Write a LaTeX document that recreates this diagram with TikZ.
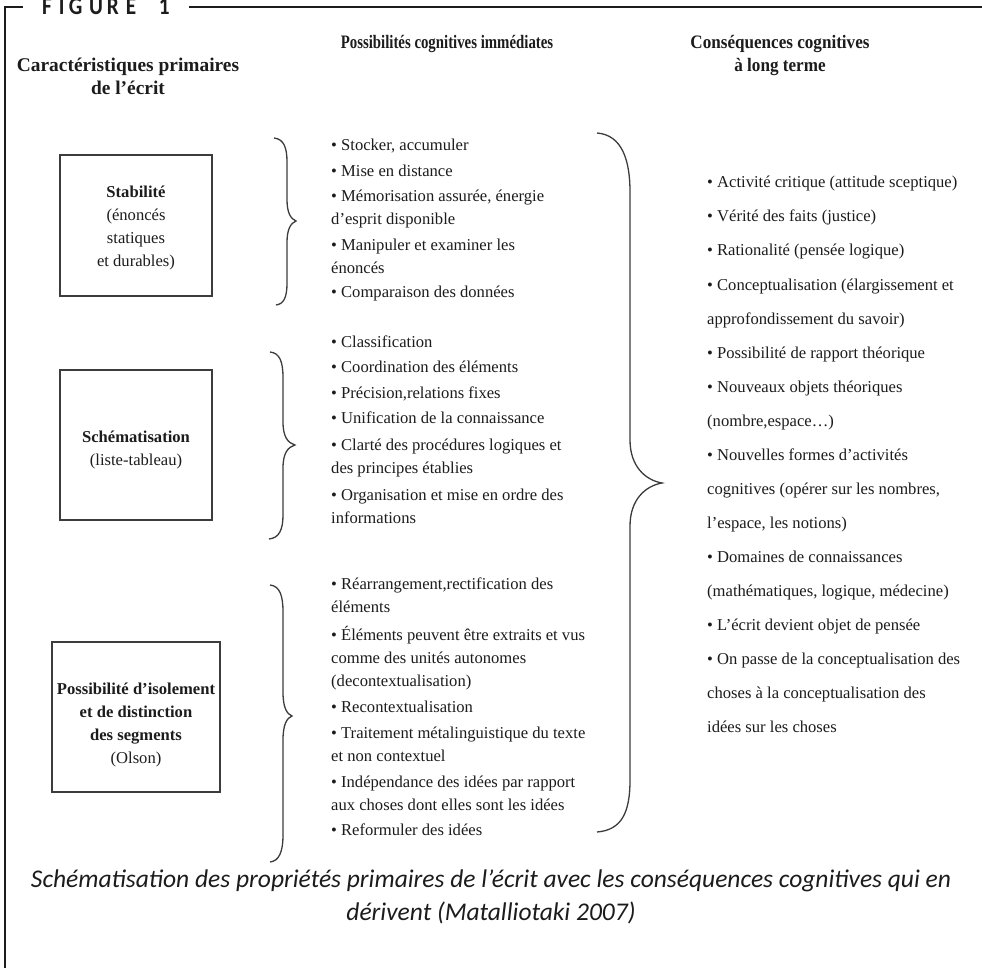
\documentclass[tikz,border=0pt]{standalone}
\usepackage{fontspec}
\setmainfont{Liberation Serif}
\newfontfamily\capfont{Carlito}
\newfontfamily\figfont[FakeStretch=0.85]{Carlito}
\newfontfamily\headnarrow[FakeStretch=0.78]{Liberation Serif}
\newfontfamily\headmid[FakeStretch=0.9]{Liberation Serif}
\definecolor{ink}{HTML}{1C1C1C}
\definecolor{brc}{HTML}{3C3C3C}
\newcommand{\bodyfont}{\fontsize{16.6}{23}\selectfont}
\newcommand{\rightfont}{\fontsize{16.6}{34}\selectfont}
\begin{document}
\begin{tikzpicture}[x=1pt,y=-1pt,
  frame/.style={draw=ink, line width=1.1pt},
  boxst/.style={draw=brc, line width=1.3pt, inner sep=0},
  boxtxt/.style={anchor=base, inner sep=0, align=center, font=\fontsize{16.6}{22.7}\selectfont, text=ink},
  head/.style={anchor=base, inner sep=0, align=center, text=ink},
  mid/.style={anchor=base west, inner sep=0, align=left, font=\bodyfont, text=ink},
  rgt/.style={anchor=base west, inner sep=0, align=left, font=\rightfont, text=ink},
  brace/.style={draw=brc, line width=1.3pt},
  captxt/.style={anchor=base, inner sep=0, font=\capfont\itshape\fontsize{25.5}{25.5}\selectfont, text=ink}]
\useasboundingbox (0,0) rectangle (982,968);
\fill[white] (0,0) rectangle (982,968);
% frame
\draw[frame] (23,7) -- (5,7) -- (5,968);
\draw[frame] (189,7) -- (982,7);
\node[anchor=base west, inner sep=0, text=ink, font=\figfont\bfseries\fontsize{25}{25}\selectfont] (fig) at (42,15)
  {F\hspace{7pt}I\hspace{4.3pt}G\hspace{6.6pt}U\hspace{4pt}R\hspace{7pt}E\hspace{22.6pt}1};
% headers (anchor base = last line)
\node[head, font=\fontsize{19.4}{23}\selectfont\bfseries] (h1) at (128,95) {Caractéristiques primaires\\de l’écrit};
\node[head, font=\headnarrow\fontsize{19}{23}\selectfont\bfseries] (h2) at (447,49) {Possibilités cognitives immédiates};
\node[head, font=\headmid\fontsize{19}{23}\selectfont\bfseries] (h3) at (780,72) {Conséquences cognitives\\à long terme};
% boxes
\node[boxst, minimum width=152, minimum height=141] (b1) at (136,225.5) {};
\node[boxtxt] (t1) at (136,266) {\textbf{Stabilité}\\(énoncés\\statiques\\et durables)};
\node[boxst, minimum width=152, minimum height=150] (b2) at (136,445) {};
\node[boxtxt] (t2) at (136,465) {\textbf{Schématisation}\\(liste-tableau)};
\node[boxst, minimum width=168, minimum height=150] (b3) at (136,717) {};
\node[boxtxt] (t3) at (136,763) {\textbf{Possibilité d’isolement}\\\textbf{et de distinction}\\\textbf{des segments}\\(Olson)};
% braces
\draw[brace] (274,138) .. controls (284,139) and (287,148) .. (287,162) -- (287,200)
  .. controls (287,213) and (291,219) .. (296,221) .. controls (291,223) and (287,229) .. (287,242)
  -- (287,283) .. controls (287,297) and (284,304) .. (276,305);
\draw[brace] (270,352) .. controls (280,353) and (283,362) .. (283,378) -- (283,422)
  .. controls (283,437) and (288,443) .. (295,445) .. controls (288,447) and (283,453) .. (283,468)
  -- (283,515) .. controls (283,530) and (279,538) .. (269,539);
\draw[brace] (270,585) .. controls (280,586) and (283,596) .. (283,612) -- (283,692)
  .. controls (283,708) and (287,714) .. (292,716) .. controls (287,718) and (283,724) .. (283,740)
  -- (283,835) .. controls (283,852) and (279,861) .. (270,862);
\draw[brace] (597,133) .. controls (622,135) and (630,160) .. (630,192) -- (630,440)
  .. controls (630,466) and (645,480) .. (662,483) .. controls (645,486) and (630,500) .. (630,526)
  -- (630,780) .. controls (630,812) and (622,830) .. (597,832);
% middle column (anchor base = last line)
\node[mid] (m1) at (331,151) {• Stocker, accumuler};
\node[mid] (m2) at (331,177) {• Mise en distance};
\node[mid] (m3) at (331,225) {• Mémorisation assurée, énergie\\d’esprit disponible};
\node[mid] (m4) at (331,273) {• Manipuler et examiner les\\énoncés};
\node[mid] (m5) at (331,298) {• Comparaison des données};
\node[mid] (m6) at (331,347) {• Classification};
\node[mid] (m7) at (331,372) {• Coordination des éléments};
\node[mid] (m8) at (331,398) {• Précision,relations fixes};
\node[mid] (m9) at (331,423) {• Unification de la connaissance};
\node[mid] (m10) at (331,473) {• Clarté des procédures logiques et\\des principes établies};
\node[mid] (m11) at (331,523) {• Organisation et mise en ordre des\\informations};
\node[mid] (m12) at (331,612) {• Réarrangement,rectification des\\éléments};
\node[mid] (m13) at (331,686) {• Éléments peuvent être extraits et vus\\comme des unités autonomes\\(decontextualisation)};
\node[mid] (m14) at (331,712) {• Recontextualisation};
\node[mid] (m15) at (331,761) {• Traitement métalinguistique du texte\\et non contextuel};
\node[mid] (m16) at (331,810) {• Indépendance des idées par rapport\\aux choses dont elles sont les idées};
\node[mid] (m17) at (331,835) {• Reformuler des idées};
% right column (anchor base = last line)
\node[rgt] (r1) at (707,188) {• Activité critique (attitude sceptique)};
\node[rgt] (r2) at (707,222) {• Vérité des faits (justice)};
\node[rgt] (r3) at (707,256) {• Rationalité (pensée logique)};
\node[rgt] (r4) at (707,324) {• Conceptualisation (élargissement et\\approfondissement du savoir)};
\node[rgt] (r5) at (707,358) {• Possibilité de rapport théorique};
\node[rgt] (r6) at (707,426) {• Nouveaux objets théoriques\\(nombre,espace…)};
\node[rgt] (r7) at (707,528) {• Nouvelles formes d’activités\\cognitives (opérer sur les nombres,\\l’espace, les notions)};
\node[rgt] (r8) at (707,596) {• Domaines de connaissances\\(mathématiques, logique, médecine)};
\node[rgt] (r9) at (707,630) {• L’écrit devient objet de pensée};
\node[rgt] (r10) at (707,732) {• On passe de la conceptualisation des\\choses à la conceptualisation des\\idées sur les choses};
% caption
\node[captxt] (c1) at (491,887) {Schématisation des propriétés primaires de l’écrit avec les conséquences cognitives qui en};
\node[captxt] (c2) at (491,920) {dérivent (Matalliotaki 2007)};
\end{tikzpicture}
\end{document}
